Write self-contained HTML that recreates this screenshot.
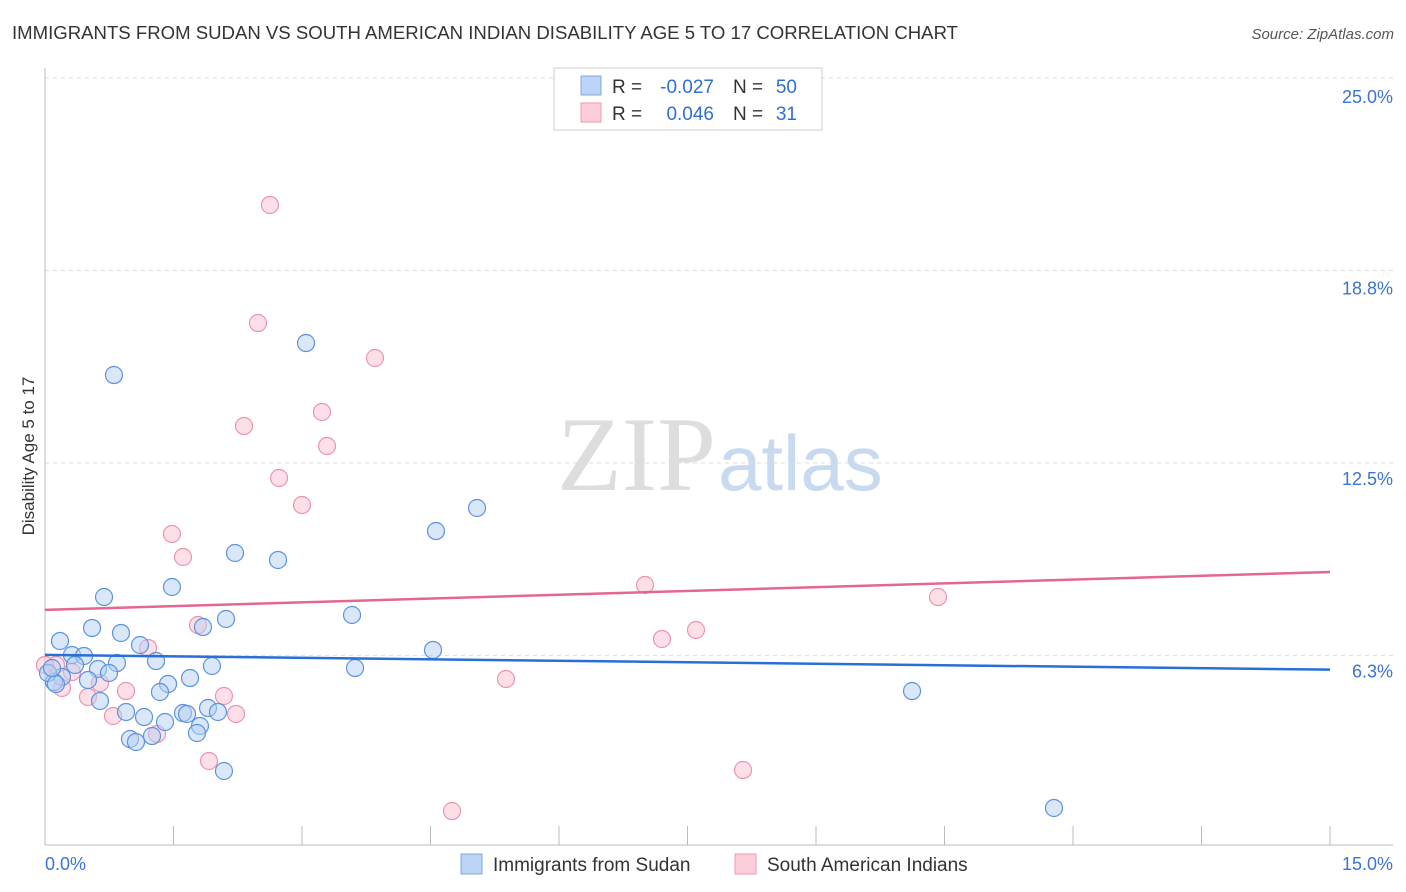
<!DOCTYPE html>
<html><head><meta charset="utf-8"><style>
body{margin:0;background:#fff;font-family:"Liberation Sans",sans-serif;}
#wrap{position:relative;width:1406px;height:892px;overflow:hidden;}
</style></head><body>
<div id="wrap">
<svg id="svg" width="1406" height="892" xmlns="http://www.w3.org/2000/svg">
<text x="12" y="39" font-size="18" fill="#333" textLength="946" lengthAdjust="spacingAndGlyphs">IMMIGRANTS FROM SUDAN VS SOUTH AMERICAN INDIAN DISABILITY AGE 5 TO 17 CORRELATION CHART</text>
<text x="1394" y="39" font-size="15" fill="#555" font-style="italic" text-anchor="end">Source: ZipAtlas.com</text>
<text x="716" y="490" font-size="106" fill="#ddd" text-anchor="end" font-family="Liberation Serif">ZIP</text>
<text x="718" y="490" font-size="78" fill="#c8daf0">atlas</text>
<text transform="translate(34,456) rotate(-90)" font-size="17" fill="#333" text-anchor="middle">Disability Age 5 to 17</text>
<g id="grid"></g><g id="marks"></g>
<g>
<rect x="554" y="68" width="268" height="62" fill="#fff" stroke="#ccc"/>
<rect x="581" y="76" width="20" height="19" fill="#bcd4f5" stroke="#7fa8e0"/>
<rect x="581" y="103" width="20" height="19" fill="#fcccd9" stroke="#ee9ab2"/>
<text x="612" y="93" font-size="19" fill="#333">R =</text>
<text x="714" y="93" font-size="19" fill="#2e6fd1" text-anchor="end">-0.027</text>
<text x="733" y="93" font-size="19" fill="#333">N =</text>
<text x="797" y="93" font-size="19" fill="#2e6fd1" text-anchor="end">50</text>
<text x="612" y="120" font-size="19" fill="#333">R =</text>
<text x="714" y="120" font-size="19" fill="#2e6fd1" text-anchor="end">0.046</text>
<text x="733" y="120" font-size="19" fill="#333">N =</text>
<text x="797" y="120" font-size="19" fill="#2e6fd1" text-anchor="end">31</text>
</g>
<g>
<rect x="461" y="854" width="21" height="20" fill="#bcd4f5" stroke="#7fa8e0"/>
<text x="493" y="871" font-size="19" fill="#333">Immigrants from Sudan</text>
<rect x="735" y="854" width="21" height="20" fill="#fcccd9" stroke="#ee9ab2"/>
<text x="767" y="871" font-size="19" fill="#333">South American Indians</text>
</g>
</svg></div>
<script>
const yTicks=[25.0,18.75,12.5,6.25];
const yTickLabels=["25.0%","18.8%","12.5%","6.3%"];
const xTickCount=[0,1.5,3,4.5,6,7.5,9,10.5,12,13.5,15];
const xLabels=["0.0%","15.0%"];
const sudanPx=[[114,375],[306,343],[477,508],[436,531],[235,553],[278,560],[172,587],[104,597],[352,615],[226,619],[92,628],[203,627],[121,633],[60,641],[140,645],[72,655],[84,656],[433,650],[156,661],[117,663],[212,666],[355,668],[98,669],[109,673],[62,677],[190,678],[168,684],[54,682],[160,692],[88,680],[100,701],[912,691],[126,712],[208,708],[183,713],[187,714],[218,712],[144,717],[165,722],[200,726],[197,733],[130,739],[136,742],[152,736],[224,771],[1054,808],[48,673],[56,684],[75,665],[52,668]];
const saPx=[[270,205],[258,323],[375,358],[322,412],[244,426],[327,446],[279,478],[302,505],[172,534],[183,557],[645,585],[938,597],[198,625],[662,639],[696,630],[148,648],[100,683],[126,691],[506,679],[224,696],[88,697],[113,716],[236,714],[157,734],[209,761],[743,770],[452,811],[62,688],[56,665],[72,672],[45,665]];
const sudanX=sudanPx.map(p=>+((p[0]-45)/85.667).toFixed(3));
const sudanY=sudanPx.map(p=>+(25-(p[1]-78)/30.8).toFixed(3));
const saX=saPx.map(p=>+((p[0]-45)/85.667).toFixed(3));
const saY=saPx.map(p=>+(25-(p[1]-78)/30.8).toFixed(3));
const sudanTrend=[6.27,5.79];
const saTrend=[7.73,8.96];
const X=v=>45+v*85.667, Y=v=>78+(25-v)*30.8;
const NS="http://www.w3.org/2000/svg";
function mk(tag,attrs,parent){const e=document.createElementNS(NS,tag);for(const k in attrs)e.setAttribute(k,attrs[k]);parent.appendChild(e);return e;}
const grid=document.getElementById('grid'),marks=document.getElementById('marks');
const labOff=[25,24,22,22];
yTicks.forEach((t,i)=>{
 const l=mk('line',{x1:45,x2:1393,y1:Y(t),y2:Y(t),stroke:'#ddd','stroke-dasharray':'4,4'},grid);
 
 
 const tx=mk('text',{x:1393,y:Y(t)+labOff[i],'font-size':18,fill:'#3a74d4','text-anchor':'end'},grid);
 tx.textContent=yTickLabels[i];
 
 
});
const ax=mk('line',{x1:45,x2:1393,y1:845,y2:845,stroke:'#bbb'},grid);


const ay=mk('line',{x1:45,x2:45,y1:68,y2:845,stroke:'#bbb'},grid);


xTickCount.forEach(t=>{const l=mk('line',{x1:X(t),x2:X(t),y1:826,y2:845,stroke:'#bbb'},grid);
 
 });
[[0,45,'start'],[15,1393,'end']].forEach((d,i)=>{const tx=mk('text',{x:d[1],y:870,'font-size':18,fill:'#3a74d4','text-anchor':d[2]},grid);tx.textContent=xLabels[i];
 
 });
function pts(xs,ys,fill,stroke,name){xs.forEach((x,i)=>{const c=mk('circle',{cx:X(x),cy:Y(ys[i]),r:8.5,fill:fill,'fill-opacity':0.5,stroke:stroke,'stroke-width':1.2},marks);
 
 });}
pts(saX,saY,'#f9bfd0','#ec94ad','point-south-american-indians');
pts(sudanX,sudanY,'#b5d0f4','#5b93de','point-immigrants-sudan');
const t1=mk('line',{x1:X(0),x2:X(15),y1:Y(sudanTrend[0]),y2:Y(sudanTrend[1]),stroke:'#2a6fd6','stroke-width':2.5},marks);


const t2=mk('line',{x1:X(0),x2:X(15),y1:Y(saTrend[0]),y2:Y(saTrend[1]),stroke:'#e5668e','stroke-width':2.5},marks);


</script>
</body></html>
